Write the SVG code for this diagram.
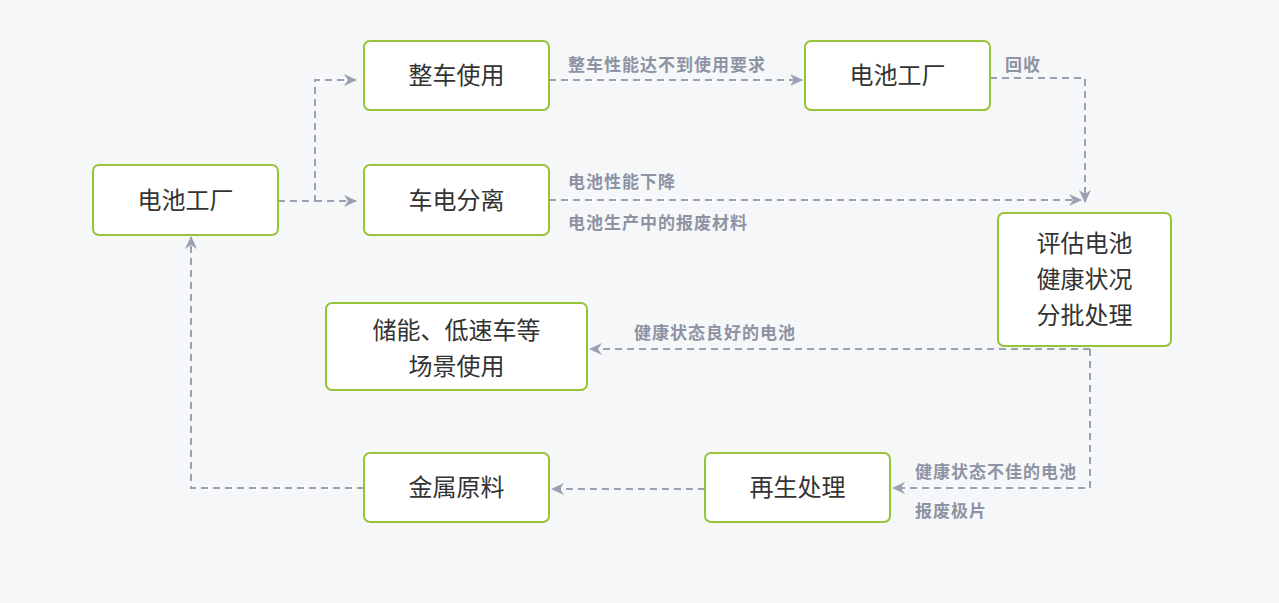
<svg xmlns="http://www.w3.org/2000/svg" width="1279" height="603" viewBox="0 0 1279 603">
<defs>
<marker id="arr" markerWidth="14" markerHeight="12" viewBox="0 0 14 12" refX="12" refY="6" orient="auto" markerUnits="userSpaceOnUse">
<path d="M0,0 L13,6 L0,12 L4,6 Z" fill="#9aa1b3"/>
</marker>
<style>
.box{fill:#fff;stroke:#95c33a;stroke-width:2}
.t{font-family:"Noto Sans CJK SC","Noto Sans",sans-serif;font-size:24px;fill:#333;text-anchor:middle}
.l{font-family:"Noto Sans CJK SC","Noto Sans",sans-serif;font-size:17px;letter-spacing:1px;font-weight:bold;fill:#8e93a4}
.c{fill:none;stroke:#9aa1b3;stroke-width:2;stroke-dasharray:7,5}
</style>
</defs>
<rect width="1279" height="603" fill="#f5f7f9"/>
<g id="connectors">
<path class="c" d="M278,201 H315 V80 H356" marker-end="url(#arr)"/>
<path class="c" d="M315,201 H356" marker-end="url(#arr)"/>
<path class="c" d="M549,80 H802" marker-end="url(#arr)"/>
<path class="c" d="M990,78 H1085 V202" marker-end="url(#arr)"/>
<path class="c" d="M549,200 H1081" marker-end="url(#arr)"/>
<path class="c" d="M1090,349 H590" marker-end="url(#arr)"/>
<path class="c" d="M1090,349 V488 H893" marker-end="url(#arr)"/>
<path class="c" d="M705,489 H552" marker-end="url(#arr)"/>
<path class="c" d="M364,488 H191 V237" marker-end="url(#arr)"/>
<text class="l" x="568" y="71">整车性能达不到使用要求</text>
<text class="l" x="1005" y="71">回收</text>
<text class="l" x="568" y="188">电池性能下降</text>
<text class="l" x="568" y="229">电池生产中的报废材料</text>
<text class="l" x="634" y="339">健康状态良好的电池</text>
<text class="l" x="915" y="478">健康状态不佳的电池</text>
<text class="l" x="915" y="517">报废极片</text>
</g>
<g id="n1"><rect class="box" x="93" y="165" width="185" height="70" rx="6"/><text class="t" x="185.5" y="208.5">电池工厂</text></g>
<g id="n2"><rect class="box" x="364" y="41" width="185" height="69" rx="6"/><text class="t" x="456.5" y="84">整车使用</text></g>
<g id="n3"><rect class="box" x="364" y="165" width="185" height="70" rx="6"/><text class="t" x="456.5" y="208.5">车电分离</text></g>
<g id="n4"><rect class="box" x="805" y="41" width="185" height="69" rx="6"/><text class="t" x="897.5" y="84">电池工厂</text></g>
<g id="n5"><rect class="box" x="998" y="213" width="173" height="133" rx="6"/><text class="t" x="1084.5" y="252">评估电池</text><text class="t" x="1084.5" y="288">健康状况</text><text class="t" x="1084.5" y="324">分批处理</text></g>
<g id="n6"><rect class="box" x="326" y="303" width="261" height="87" rx="6"/><text class="t" x="456.5" y="339">储能、低速车等</text><text class="t" x="456.5" y="375">场景使用</text></g>
<g id="n7"><rect class="box" x="364" y="453" width="185" height="69" rx="6"/><text class="t" x="456.5" y="496">金属原料</text></g>
<g id="n8"><rect class="box" x="705" y="453" width="185" height="69" rx="6"/><text class="t" x="797.5" y="496">再生处理</text></g>
</svg>
